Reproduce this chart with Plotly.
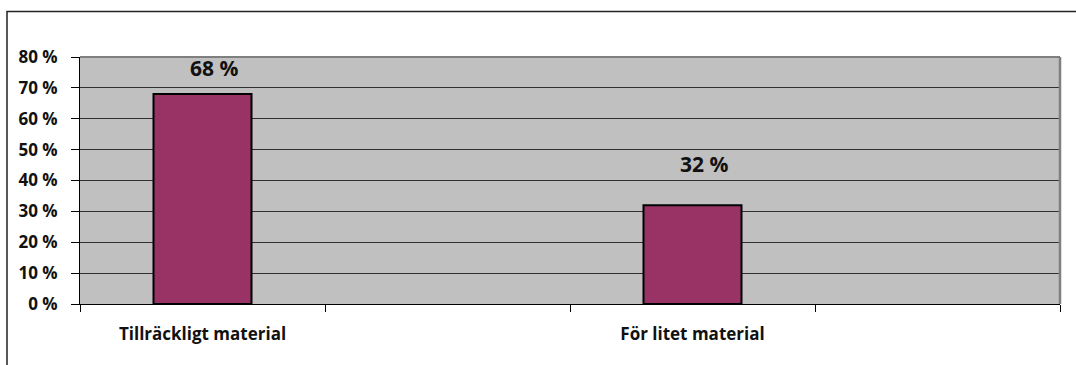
import plotly.graph_objects as go

categories = ["Tillräckligt material", " ", "För litet material", "  "]
values = [68, None, 32, None]
labels = ["68 %", None, "32 %", None]
y_ticks = [0, 10, 20, 30, 40, 50, 60, 70, 80]
y_tick_text = [f"{v} %" for v in y_ticks]

W, H = 1076, 365
L, R, T, B = 80, 16, 57, 61
pw, ph = W - L - R, H - T - B
FONT = "Open Sans"

fig = go.Figure()
fig.add_trace(go.Bar(
    x=categories, y=values, width=0.4,
    marker=dict(color="#993366", line=dict(color="#000000", width=2)),
    hoverinfo="skip",
))

label_shift = [26, 0, 41, 0]  # pixel offsets of data labels above bar tops
for c, v, t, s in zip(categories, values, labels, label_shift):
    if v is None:
        continue
    fig.add_annotation(x=c, y=v, text=f"<b>{t}</b>", showarrow=False,
                       yshift=s, xshift=11, yanchor="middle",
                       font=dict(family=FONT, size=21, color="#111111"))

def px_x(p):
    return (p - L) / pw

def px_y(p):
    return (H - B - p) / ph

# outer chart frame (left and top visible)
fig.add_shape(type="rect", xref="paper", yref="paper",
              x0=px_x(7), x1=px_x(1090), y0=px_y(380), y1=px_y(11.5),
              line=dict(color="#222222", width=1.5), fillcolor="rgba(0,0,0,0)",
              layer="below")
# plot area border top/right in gray
fig.add_shape(type="line", xref="paper", yref="paper", x0=0, x1=1, y0=1, y1=1,
              line=dict(color="#7f7f7f", width=2))
fig.add_shape(type="line", xref="paper", yref="paper", x0=1, x1=1, y0=0, y1=1,
              line=dict(color="#7f7f7f", width=2.5))

fig.update_layout(
    width=W, height=H,
    margin=dict(l=L, r=R, t=T, b=B),
    paper_bgcolor="#ffffff",
    plot_bgcolor="#c0c0c0",
    showlegend=False,
    font=dict(family=FONT, size=14, color="#111111"),
)
fig.update_xaxes(
    type="category", categoryorder="array", categoryarray=categories,
    range=[-0.5, 3.5], showgrid=False, tickson="boundaries",
    ticks="outside", ticklen=7, tickcolor="#000000", tickwidth=1,
    showline=True, linecolor="#000000", linewidth=1,
    tickvals=categories, ticktext=[f"<b>{c}</b>" for c in categories],
    tickfont=dict(family=FONT, size=17, color="#111111"),
    ticklabelstandoff=15, fixedrange=True,
)
fig.update_yaxes(
    range=[0, 80], tickmode="array", tickvals=y_ticks,
    ticktext=[f"<b>{t}</b>" for t in y_tick_text],
    showgrid=True, gridcolor="#303030", gridwidth=1,
    ticks="outside", ticklen=8, tickcolor="#000000", tickwidth=1,
    showline=True, linecolor="#000000", linewidth=1,
    tickfont=dict(family=FONT, size=17, color="#111111"),
    ticklabelstandoff=10, zeroline=False, fixedrange=True,
)

fig.write_html("out.html", config={"displayModeBar": False})
